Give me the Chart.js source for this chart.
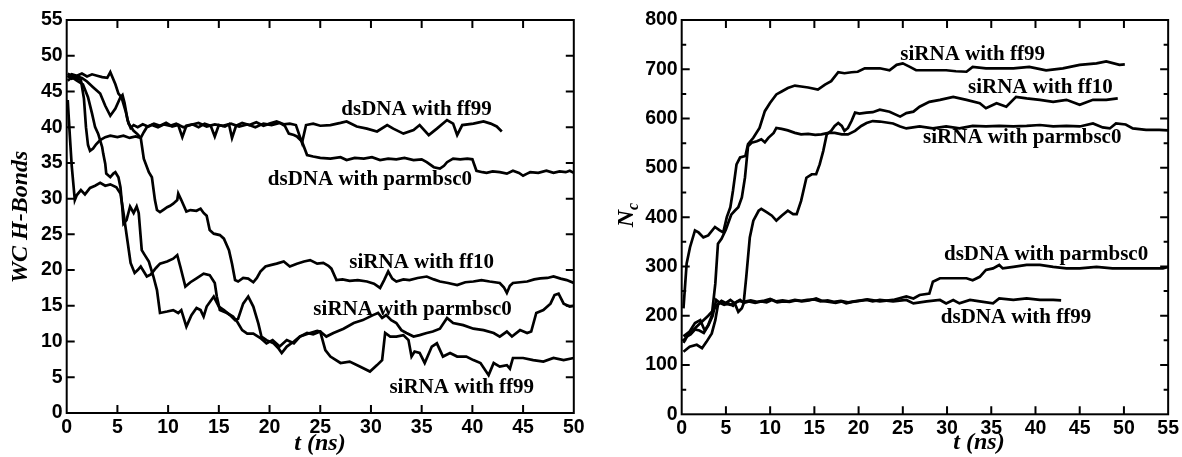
<!DOCTYPE html>
<html>
<head>
<meta charset="utf-8">
<script src="https://cdn.jsdelivr.net/npm/chart.js@4.4.1/dist/chart.umd.min.js"></script>
<style>
  body { margin: 0; background: #fff; }
  #wrap { position: relative; width: 1182px; height: 457px; }
  canvas { position: absolute; top: 0; }
</style>
</head>
<body>
<div id="wrap">
  <canvas id="left" width="590" height="457" style="left:0"></canvas>
  <canvas id="right" width="592" height="457" style="left:590px"></canvas>
</div>
<script>
// ---- left panel: WC H-Bonds vs t (ns), [t, value]
const hbDsFf99 = [[0.1,47.2],[0.5,46.8],[1.0,47.1],[1.5,46.9],[2.0,46.4],[2.6,45.6],[3.3,44.7],[3.8,43.0],[4.3,41.6],[4.8,42.6],[5.3,44.2],[5.5,44.5],[5.7,43.4],[6.0,41.0],[6.3,39.9],[6.6,40.3],[7.0,40.0],[7.5,40.4],[8.0,40.1],[8.6,40.5],[9.2,40.2],[9.8,40.6],[10.4,40.1],[11.0,40.3],[11.4,38.6],[11.8,40.2],[12.4,40.4],[13.0,40.0],[13.6,40.5],[14.2,40.2],[14.6,38.7],[15.0,40.3],[15.6,40.1],[16.0,40.4],[16.3,38.5],[16.7,40.2],[17.3,40.6],[18.0,40.3],[18.7,40.7],[19.4,40.2],[20.0,40.5],[20.7,40.8],[21.4,40.4],[22.0,40.5],[22.6,40.3],[23.2,37.8],[23.6,40.3],[24.3,40.5],[25.0,40.2],[26.0,40.3],[27.0,40.6],[27.6,40.8],[28.6,40.1],[29.6,39.8],[30.6,39.4],[31.6,40.3],[32.2,39.8],[33.2,39.1],[34.2,39.6],[34.8,40.3],[35.7,38.9],[36.5,39.8],[37.5,41.0],[38.1,40.5],[38.5,38.9],[39.0,40.3],[40.1,40.5],[41.1,40.8],[41.8,40.5],[42.4,40.1],[42.9,39.4]]
const hbDsBsc0 = [[0.1,47.5],[0.5,47.2],[1.0,46.8],[1.4,46.6],[1.7,44.0],[1.9,40.0],[2.1,37.5],[2.3,36.7],[2.6,37.0],[2.9,37.6],[3.3,38.2],[3.8,38.6],[4.3,38.8],[5.0,38.6],[5.6,38.8],[6.2,38.5],[6.8,38.7],[7.3,38.5],[7.6,39.3],[7.9,40.0],[8.4,40.3],[9.0,40.0],[9.6,40.4],[10.2,40.2],[10.8,40.5],[11.5,40.0],[12.2,40.3],[13.0,40.6],[13.8,40.1],[14.6,40.4],[15.4,40.2],[16.2,40.5],[17.0,40.1],[17.8,40.4],[18.6,40.0],[19.4,40.5],[20.2,40.3],[21.0,40.6],[21.5,40.2],[21.9,39.1],[22.4,38.9],[22.7,38.7],[23.2,38.0],[23.7,36.1],[24.3,35.9],[25.0,35.7],[26.0,35.6],[27.0,35.8],[27.6,35.4],[28.4,35.7],[29.3,35.6],[30.1,35.8],[30.9,35.4],[31.7,35.6],[32.5,35.5],[33.3,35.7],[34.2,35.4],[35.0,35.5],[35.5,35.1],[36.2,34.4],[36.8,34.2],[37.2,34.6],[37.5,35.1],[38.1,35.6],[38.8,35.5],[39.5,35.6],[40.0,35.5],[40.4,33.9],[41.0,33.7],[41.4,33.6],[42.0,33.8],[42.7,33.7],[43.4,33.5],[44.0,33.9],[44.6,33.6],[45.0,33.2],[45.4,33.5],[45.7,33.7],[46.5,33.6],[47.3,33.9],[48.0,33.6],[48.6,33.8],[49.2,33.7],[49.6,33.9],[50.0,33.6]]
const hbSiFf10 = [[0.1,47.0],[0.5,47.4],[1.0,47.2],[1.5,47.5],[2.0,47.1],[2.5,47.4],[3.0,47.2],[3.5,47.0],[4.0,46.9],[4.3,47.7],[4.8,46.0],[5.1,44.7],[5.4,44.2],[5.8,42.3],[6.1,40.5],[6.6,39.5],[7.0,39.0],[7.3,38.5],[7.6,35.6],[8.1,33.7],[8.4,33.0],[8.7,29.8],[8.9,28.4],[9.2,28.1],[9.6,28.5],[9.9,28.8],[10.2,29.0],[10.5,29.3],[10.9,29.8],[11.0,30.7],[11.3,29.8],[11.8,28.2],[12.2,28.4],[12.8,28.3],[13.2,28.6],[13.5,28.0],[13.8,27.6],[14.1,25.6],[14.5,25.1],[15.1,24.9],[15.5,24.4],[16.0,22.8],[16.3,20.9],[16.6,18.6],[16.9,18.4],[17.4,18.9],[17.9,18.8],[18.4,18.3],[18.75,18.9],[19.1,19.8],[19.6,20.5],[20.1,20.7],[20.7,20.9],[21.4,21.2],[22.0,20.5],[22.7,20.9],[23.4,21.2],[24.0,21.4],[24.7,20.9],[25.3,21.0],[25.8,20.6],[26.1,20.2],[26.6,18.6],[27.2,18.7],[27.9,18.5],[28.7,18.6],[29.6,18.4],[30.3,18.1],[30.9,17.5],[31.3,18.6],[31.7,19.8],[32.1,18.8],[32.5,18.4],[33.2,18.7],[33.8,18.6],[34.6,18.9],[35.5,19.1],[36.2,18.7],[36.8,18.4],[37.6,18.2],[38.5,17.9],[39.3,18.3],[40.1,18.4],[40.9,18.6],[41.7,18.4],[42.7,18.2],[43.1,17.6],[43.4,16.8],[43.7,17.8],[44.0,18.2],[44.7,18.3],[45.4,18.4],[46.1,18.7],[46.7,18.85],[47.4,18.9],[48.0,19.1],[48.7,18.8],[49.3,18.6],[50.0,18.2]]
const hbSiBsc0 = [[0.1,43.8],[0.3,39.0],[0.5,34.5],[0.8,29.8],[1.0,30.5],[1.4,31.2],[1.8,30.6],[2.3,31.5],[2.8,31.8],[3.3,32.2],[3.8,31.8],[4.3,32.0],[4.9,31.6],[5.3,30.7],[5.6,28.0],[6.0,24.0],[6.3,21.0],[6.7,19.6],[7.0,20.0],[7.3,20.5],[7.9,19.1],[8.3,19.4],[8.8,20.3],[9.2,20.9],[9.9,21.2],[10.5,21.6],[10.9,22.1],[11.2,20.5],[11.7,17.7],[12.2,18.3],[12.8,18.85],[13.5,19.5],[14.1,19.3],[14.6,18.2],[14.8,16.3],[15.1,14.4],[15.8,14.0],[16.4,13.5],[16.8,12.8],[17.3,11.6],[17.8,11.1],[18.4,11.1],[19.1,10.5],[19.7,9.75],[20.3,10.2],[21.0,9.3],[21.7,10.2],[22.4,9.75],[23.0,10.7],[23.7,11.2],[24.3,11.0],[25.0,11.4],[25.6,10.7],[26.3,11.2],[27.3,11.8],[28.3,12.6],[29.2,13.0],[30.2,13.7],[30.7,14.0],[31.1,13.3],[31.5,13.7],[32.0,13.0],[32.5,12.6],[33.0,11.6],[33.5,11.2],[34.2,10.7],[34.8,10.9],[35.5,11.2],[36.1,11.4],[36.8,11.8],[37.5,13.3],[38.1,12.6],[39.1,12.3],[40.1,11.8],[41.1,11.6],[42.1,11.2],[42.7,10.7],[43.4,11.4],[43.9,10.7],[44.7,11.6],[45.4,11.2],[45.8,11.4],[46.3,14.0],[47.0,14.4],[47.7,15.3],[48.1,16.5],[48.5,16.7],[49.0,15.3],[49.6,14.9],[50.0,15.0]]
const hbSiFf99 = [[0.1,46.5],[0.5,47.0],[1.0,46.5],[1.6,46.0],[2.1,44.2],[2.5,41.9],[2.8,40.0],[3.1,39.1],[3.5,37.2],[3.6,36.3],[3.8,34.9],[3.9,33.5],[4.3,33.0],[4.6,33.5],[4.8,33.7],[5.1,33.0],[5.3,31.6],[5.45,29.3],[5.6,26.5],[5.9,27.0],[6.25,28.9],[6.6,28.0],[6.9,28.9],[7.1,28.0],[7.4,22.8],[7.7,22.1],[8.1,21.2],[8.55,19.1],[8.9,17.2],[9.2,14.0],[9.9,14.2],[10.5,14.4],[11.0,14.0],[11.3,14.4],[11.8,12.1],[12.3,13.7],[12.8,14.7],[13.2,14.4],[13.5,13.5],[13.8,14.9],[14.5,16.3],[15.0,14.9],[15.5,14.4],[16.1,13.7],[16.6,13.0],[16.9,13.2],[17.4,15.3],[17.9,16.3],[18.4,14.9],[18.9,12.5],[19.2,10.7],[19.7,10.2],[20.4,9.75],[20.9,9.0],[21.2,8.4],[21.7,9.3],[22.4,10.0],[23.0,10.7],[24.0,11.2],[24.7,11.5],[25.0,11.4],[25.5,8.8],[26.0,7.9],[27.0,7.0],[27.9,7.2],[28.9,6.5],[29.9,5.8],[30.6,6.7],[31.1,7.4],[31.4,11.2],[31.9,10.7],[32.5,10.7],[33.2,10.9],[33.7,10.2],[34.0,7.9],[34.3,8.6],[34.8,8.4],[35.3,7.0],[36.0,9.3],[36.5,9.75],[37.1,7.9],[37.8,8.4],[38.5,7.9],[39.4,7.9],[40.1,7.4],[40.8,7.0],[41.6,5.3],[42.1,7.0],[42.7,6.5],[43.4,6.7],[43.7,6.2],[44.0,7.7],[45.0,7.7],[46.0,7.4],[47.0,7.2],[48.0,7.7],[49.0,7.4],[50.0,7.7]]

// ---- right panel: Nc vs t (ns)
const ncSiFf99 = [[0.2,215],[0.56,306],[0.94,339],[1.5,373],[1.9,369],[2.45,359],[3.0,363],[3.76,380],[4.3,373],[4.7,369],[5.1,400],[5.5,420],[5.8,454],[6.2,507],[6.6,521],[7.2,524],[7.5,548],[8.1,561],[8.8,581],[9.4,615],[10.0,632],[10.7,649],[11.3,655],[12.0,662],[12.8,667],[13.5,665],[14.3,663],[15.4,659],[16.2,669],[16.9,676],[17.7,694],[18.4,692],[19.2,694],[19.9,695],[20.7,702],[21.5,702],[22.4,702],[23.5,698],[24.3,709],[25.0,712],[25.8,705],[26.5,698],[28.0,698],[29.9,698],[31.0,696],[32.2,695],[32.9,705],[34.4,702],[36.0,702],[37.5,702],[39.3,705],[41.2,698],[43.1,702],[45.0,709],[46.9,712],[48.0,716],[49.5,709],[50.1,710]]
const ncSiFf10 = [[0.2,150],[1.0,165],[1.7,178],[2.4,190],[3.0,200],[3.5,210],[4.0,222],[4.5,230],[5.0,226],[5.5,232],[6.0,225],[6.4,208],[6.8,215],[7.0,225],[7.3,279],[7.7,359],[8.1,393],[8.7,413],[9.0,417],[9.6,410],[10.2,403],[10.7,393],[11.3,403],[12.0,413],[12.6,406],[13.0,406],[13.5,433],[14.1,480],[14.7,487],[15.2,487],[15.6,507],[16.0,534],[16.4,568],[16.9,575],[17.3,585],[17.7,591],[18.1,585],[18.4,575],[18.8,581],[19.2,595],[19.6,612],[20.1,610],[20.9,612],[21.6,613],[22.4,618],[23.5,614],[24.7,604],[25.4,611],[26.2,614],[26.9,624],[28.0,634],[29.2,638],[30.7,644],[32.2,638],[33.7,631],[34.4,621],[35.6,631],[36.7,624],[37.8,644],[39.0,641],[40.5,638],[42.0,634],[43.5,638],[45.0,628],[46.5,638],[48.0,638],[49.3,641]]
const ncSiBsc0 = [[0.2,158],[0.9,168],[1.5,185],[2.1,191],[2.6,170],[3.0,181],[3.4,200],[3.8,265],[4.1,346],[4.5,356],[5.0,375],[5.3,390],[5.6,405],[6.0,413],[6.4,420],[6.8,440],[7.15,480],[7.3,507],[7.5,544],[7.9,551],[8.5,554],[9.0,558],[9.4,552],[9.8,561],[10.4,571],[10.7,581],[11.3,579],[12.0,576],[12.8,571],[13.5,568],[14.3,569],[15.1,567],[15.8,568],[16.6,571],[17.3,571],[18.1,568],[18.8,568],[19.6,575],[20.3,585],[20.9,591],[21.6,595],[22.4,594],[23.9,590],[24.7,584],[25.4,580],[26.9,584],[28.4,580],[29.9,584],[31.4,580],[32.9,585],[34.4,584],[35.9,585],[37.5,584],[39.0,585],[40.5,587],[42.0,584],[43.5,585],[45.0,584],[46.5,590],[47.6,582],[48.4,580],[49.1,590],[50.2,588],[51.0,580],[52.5,577],[54.0,577],[55.0,576]]
const ncDsFf99 = [[0.2,145],[0.6,158],[1.0,162],[1.5,172],[2.0,170],[2.5,165],[3.0,180],[3.5,200],[3.9,232],[4.3,226],[4.8,222],[5.3,225],[5.8,220],[6.2,228],[6.6,232],[7.0,226],[7.6,229],[8.3,226],[9.0,229],[9.6,227],[10.2,232],[10.8,227],[11.5,229],[12.2,228],[12.9,231],[13.6,229],[14.4,231],[15.2,235],[15.9,230],[16.7,228],[17.4,226],[18.1,229],[18.6,225],[19.3,228],[20.1,230],[20.9,232],[21.6,229],[22.4,232],[23.9,229],[25.4,232],[26.2,225],[27.7,229],[29.2,232],[29.9,225],[30.7,232],[31.4,225],[32.6,232],[33.7,229],[35.2,225],[35.9,235],[37.5,232],[39.0,235],[40.5,232],[42.0,232],[42.9,231]]
const ncDsBsc0 = [[0.2,127],[0.9,137],[1.7,141],[2.3,134],[2.8,147],[3.4,164],[3.8,191],[4.1,222],[4.5,229],[4.9,225],[5.5,222],[6.0,226],[6.5,230],[7.0,228],[7.8,231],[8.5,228],[9.2,230],[10.0,234],[10.7,229],[11.4,231],[12.1,229],[12.8,232],[13.5,230],[14.2,232],[15.0,233],[15.7,229],[16.5,231],[17.2,228],[18.0,230],[18.8,227],[19.5,229],[20.3,231],[21.0,233],[21.7,231],[22.4,229],[23.9,232],[25.4,239],[26.2,235],[26.9,242],[28.0,245],[28.4,269],[29.2,276],[30.7,276],[32.2,276],[32.9,272],[33.7,279],[34.4,293],[35.2,296],[35.9,303],[36.3,296],[37.5,299],[39.0,303],[40.5,303],[42.0,299],[43.5,296],[45.0,296],[46.9,299],[48.7,296],[50.6,296],[52.5,296],[54.4,296],[55.0,299]]

// curve labels: [text, t, value]
const leftNotes = [['dsDNA with ff99', 34.5, 41.7], ['dsDNA with parmbsc0', 29.9, 31.9], ['siRNA with ff10', 35.0, 20.25], ['siRNA with parmbsc0', 34.1, 13.7], ['siRNA with ff99', 38.95, 2.76]]
const rightNotes = [['siRNA with ff99', 32.9, 719], ['siRNA with ff10', 40.55, 651], ['siRNA with parmbsc0', 38.5, 550], ['dsDNA with parmbsc0', 41.2, 313], ['dsDNA with ff99', 37.8, 184.6]]

const SANS = '"Liberation Sans", Arial, sans-serif'
const SERIF = '"Liberation Serif", "Times New Roman", serif'

// frame, inward ticks, curve labels and axis titles
const framePlugin = {
    id: 'frame',
    afterDatasetsDraw(chart, args, o) {
        const {ctx, chartArea: a, scales: {x, y}} = chart
        ctx.save()
        ctx.strokeStyle = '#000'
        ctx.lineWidth = 2
        ctx.strokeRect(a.left, a.top, a.right - a.left, a.bottom - a.top)

        ctx.beginPath()
        x.ticks.forEach(t => {
            if (t.value <= x.min || t.value >= x.max) return
            const px = x.getPixelForValue(t.value)
            ctx.moveTo(px, a.bottom); ctx.lineTo(px, a.bottom - 8)
            ctx.moveTo(px, a.top); ctx.lineTo(px, a.top + 8)
        })
        const yt = y.ticks.map(t => t.value)
        yt.forEach((v, i) => {
            if (v > y.min && v < y.max) {
                const py = y.getPixelForValue(v)
                ctx.moveTo(a.left, py); ctx.lineTo(a.left + 8, py)
                ctx.moveTo(a.right, py); ctx.lineTo(a.right - 8, py)
            }
            if (o.minor && i < yt.length - 1) {
                const py = y.getPixelForValue((v + yt[i + 1]) / 2)
                ctx.moveTo(a.left, py); ctx.lineTo(a.left + 4.5, py)
                ctx.moveTo(a.right, py); ctx.lineTo(a.right - 4.5, py)
            }
        })
        ctx.stroke()

        ctx.fillStyle = '#000'
        ctx.font = 'bold 21px ' + SERIF
        ctx.textAlign = 'center'
        ctx.textBaseline = 'alphabetic'
        o.notes.forEach(n => ctx.fillText(n[0], x.getPixelForValue(n[1]), y.getPixelForValue(n[2])))

        ctx.font = 'italic bold 24px ' + SERIF
        ctx.fillText('t (ns)', o.xTitle[0], o.xTitle[1])

        ctx.translate(o.yTitle[0], o.yTitle[1])
        ctx.rotate(-Math.PI / 2)
        if (o.sub) {
            const w1 = ctx.measureText(o.yText).width
            ctx.font = 'italic bold 16px ' + SERIF
            const w2 = ctx.measureText(o.sub).width
            ctx.textAlign = 'left'
            ctx.fillText(o.sub, -(w1 + w2) / 2 + w1, 5)
            ctx.font = 'italic bold 24px ' + SERIF
            ctx.fillText(o.yText, -(w1 + w2) / 2, 0)
        } else {
            ctx.fillText(o.yText, 0, 0)
        }
        ctx.restore()
    }
}

function tickFont() {
    return {family: SANS, size: 19.5, weight: 'bold'}
}

function makeChart(id, series, cfg) {
    return new Chart(document.getElementById(id), {
        type: 'line',
        data: {
            datasets: series.map(s => ({
                data: s.map(p => ({x: p[0], y: p[1]})),
                borderColor: '#000',
                borderWidth: 2.7,
                pointRadius: 0,
                tension: 0,
                fill: false
            }))
        },
        options: {
            responsive: false,
            animation: false,
            layout: {padding: {left: 0, right: cfg.padRight, top: 20, bottom: 0}},
            plugins: {
                legend: {display: false},
                tooltip: {enabled: false},
                frame: cfg.frame
            },
            scales: {
                x: {
                    type: 'linear', min: 0, max: cfg.xMax,
                    afterFit: s => { s.height = cfg.xHeight },
                    grid: {display: false, drawTicks: false},
                    border: {display: false},
                    ticks: {stepSize: 5, padding: 3, color: '#000', font: tickFont(), maxRotation: 0, autoSkip: false}
                },
                y: {
                    type: 'linear', min: 0, max: cfg.yMax,
                    afterFit: s => { s.width = cfg.yWidth },
                    grid: {display: false, drawTicks: false},
                    border: {display: false},
                    ticks: {stepSize: cfg.yStep, padding: 4, color: '#000', font: tickFont(), autoSkip: false}
                }
            }
        },
        plugins: [framePlugin]
    })
}

makeChart('left', [hbDsFf99, hbDsBsc0, hbSiFf10, hbSiBsc0, hbSiFf99], {
    xMax: 50, yMax: 55, yStep: 5, padRight: 16.2, xHeight: 44, yWidth: 66.7,
    frame: {notes: leftNotes, minor: false, xTitle: [320, 450], yTitle: [27, 217], yText: 'WC H-Bonds'}
})

makeChart('right', [ncSiFf99, ncSiFf10, ncSiBsc0, ncDsFf99, ncDsBsc0], {
    xMax: 55, yMax: 800, yStep: 100, padRight: 13.3, xHeight: 42.7, yWidth: 91.7,
    frame: {notes: rightNotes, minor: true, xTitle: [389, 449], yTitle: [43, 215], yText: 'N', sub: 'c'}
})
</script>
</body>
</html>
